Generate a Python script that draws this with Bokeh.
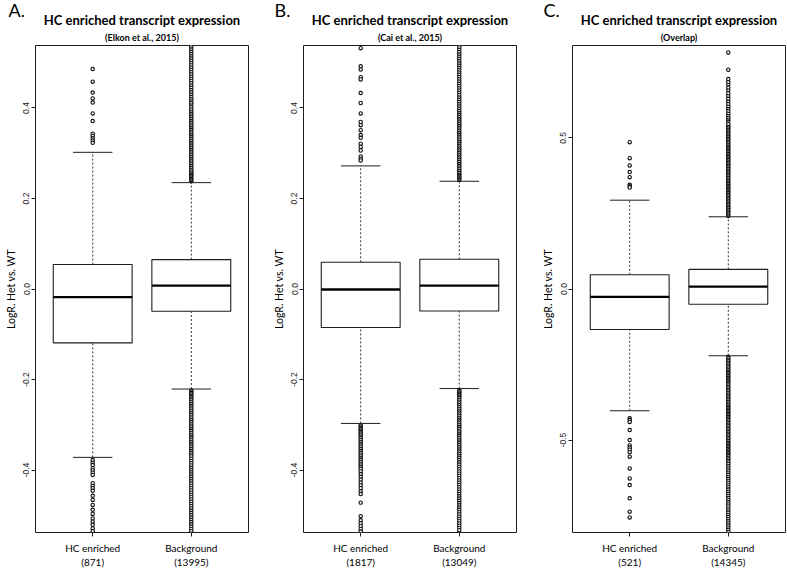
from bokeh.plotting import figure
from bokeh.models import Range1d, FixedTicker, Title, PrintfTickFormatter, ColumnDataSource
from bokeh.transform import dodge
from bokeh.layouts import row
from bokeh.embed import file_html
from bokeh.resources import INLINE

# ---------------- data ----------------
GROUPS = ["HC enriched", "Background"]
GROUP_POS = [1, 2]
PANEL_LETTERS = ["A.", "B.", "C."]
PANEL_TITLE = "HC enriched transcript expression"
PANEL_SUBTITLES = ["(Elkon et al., 2015)", "(Cai et al., 2015)", "(Overlap)"]
Y_LABEL = "LogR. Het vs. WT"

COUNTS_A = [871, 13995]
COUNTS_B = [1817, 13049]
COUNTS_C = [521, 14345]

# [lower whisker, Q1, median, Q3, upper whisker]
STATS_A = [[-0.372, -0.119, -0.018, 0.054, 0.302], [-0.221, -0.049, 0.0075, 0.065, 0.235]]
STATS_B = [[-0.297, -0.085, -0.001, 0.059, 0.272], [-0.220, -0.0486, 0.0075, 0.0656, 0.238]]
STATS_C = [[-0.403, -0.134, -0.026, 0.047, 0.294], [-0.221, -0.0507, 0.0077, 0.065, 0.239]]

Y_TICKS_AB = [-0.4, -0.2, 0.0, 0.2, 0.4]
Y_TICKS_C = [-0.5, 0.0, 0.5]
Y_LIMITS_AB = [-0.538, 0.538]
Y_LIMITS_C = [-0.806, 0.806]

A_HC_OUTLIERS = [0.486, 0.458, 0.434, 0.421, 0.412, 0.388, 0.371, 0.343, 0.338, 0.333, 0.328, 0.323,
                 -0.378, -0.384, -0.389, -0.396, -0.401, -0.406, -0.411, -0.429, -0.435, -0.44, -0.446,
                 -0.457, -0.466, -0.477, -0.488, -0.497, -0.507, -0.514, -0.521, -0.529, -0.535]
A_BG_OUTLIERS = [0.238, 0.241, 0.244, 0.247, 0.25, 0.253, 0.256, 0.259, 0.262, 0.266, 0.27, 0.274, 0.278,
                 0.282, 0.286, 0.29, 0.294, 0.298, 0.302, 0.306, 0.31, 0.314, 0.318, 0.322, 0.326, 0.33,
                 0.334, 0.338, 0.342, 0.346, 0.35, 0.354, 0.358, 0.362, 0.366, 0.37, 0.374, 0.378, 0.382,
                 0.386, 0.39, 0.394, 0.398, 0.403, 0.408, 0.412, 0.417, 0.421, 0.426, 0.431, 0.436, 0.441,
                 0.446, 0.451, 0.456, 0.461, 0.466, 0.471, 0.476, 0.481, 0.486, 0.491, 0.496, 0.501, 0.506,
                 0.511, 0.516, 0.521, 0.526, 0.531, 0.536, 0.541,
                 -0.224, -0.227, -0.23, -0.233, -0.236, -0.239, -0.242, -0.246, -0.25, -0.254, -0.258,
                 -0.262, -0.266, -0.27, -0.274, -0.278, -0.282, -0.286, -0.29, -0.294, -0.298, -0.302,
                 -0.306, -0.31, -0.314, -0.318, -0.322, -0.326, -0.33, -0.334, -0.338, -0.342, -0.346,
                 -0.35, -0.354, -0.358, -0.362, -0.366, -0.37, -0.375, -0.38, -0.385, -0.39, -0.395, -0.4,
                 -0.405, -0.41, -0.415, -0.42, -0.425, -0.43, -0.435, -0.44, -0.445, -0.45, -0.455, -0.46,
                 -0.465, -0.47, -0.475, -0.48, -0.485, -0.49, -0.495, -0.5, -0.505, -0.51, -0.515, -0.52,
                 -0.525, -0.53, -0.535, -0.541]

B_HC_OUTLIERS = [0.532, 0.492, 0.485, 0.468, 0.463, 0.433, 0.411, 0.388, 0.369, 0.362, 0.351, 0.34, 0.334,
                 0.321, 0.314, 0.306, 0.293, 0.288, 0.284,
                 -0.301, -0.304, -0.307, -0.31, -0.313, -0.316, -0.319, -0.322, -0.326, -0.33, -0.334,
                 -0.338, -0.342, -0.346, -0.35, -0.354, -0.358, -0.362, -0.366, -0.37, -0.374, -0.378,
                 -0.382, -0.386, -0.39, -0.394, -0.398, -0.403, -0.409, -0.415, -0.421, -0.428, -0.434,
                 -0.44, -0.447, -0.453, -0.472, -0.502, -0.511, -0.518, -0.524, -0.53, -0.536]
B_BG_OUTLIERS = [0.241, 0.244, 0.247, 0.25, 0.253, 0.256, 0.259, 0.263, 0.267, 0.271, 0.275, 0.279, 0.283,
                 0.287, 0.291, 0.295, 0.299, 0.303, 0.307, 0.311, 0.315, 0.319, 0.323, 0.327, 0.331, 0.335,
                 0.339, 0.343, 0.347, 0.351, 0.355, 0.359, 0.363, 0.367, 0.371, 0.375, 0.379, 0.383, 0.387,
                 0.391, 0.395, 0.4, 0.405, 0.41, 0.415, 0.42, 0.425, 0.43, 0.435, 0.44, 0.445, 0.45, 0.455,
                 0.46, 0.465, 0.47, 0.475, 0.48, 0.485, 0.49, 0.495, 0.5, 0.505, 0.51, 0.515, 0.52, 0.525,
                 0.53, 0.535, 0.541,
                 -0.223, -0.226, -0.229, -0.232, -0.235, -0.238, -0.241, -0.245, -0.249, -0.253, -0.257,
                 -0.261, -0.265, -0.269, -0.273, -0.277, -0.281, -0.285, -0.289, -0.293, -0.297, -0.301,
                 -0.305, -0.309, -0.313, -0.317, -0.321, -0.325, -0.329, -0.333, -0.337, -0.341, -0.345,
                 -0.349, -0.353, -0.357, -0.361, -0.365, -0.369, -0.373, -0.378, -0.383, -0.388, -0.393,
                 -0.398, -0.403, -0.408, -0.413, -0.418, -0.423, -0.428, -0.433, -0.438, -0.443, -0.448,
                 -0.453, -0.458, -0.463, -0.468, -0.473, -0.478, -0.483, -0.488, -0.493, -0.498, -0.503,
                 -0.508, -0.513, -0.518, -0.523, -0.528, -0.533, -0.541]

C_HC_OUTLIERS = [0.486, 0.433, 0.409, 0.387, 0.37, 0.345, 0.34, 0.336,
                 -0.428, -0.434, -0.44, -0.467, -0.5, -0.518, -0.525, -0.532, -0.54, -0.555, -0.594,
                 -0.627, -0.649, -0.693, -0.737, -0.756]
C_BG_OUTLIERS = [0.242, 0.247, 0.252, 0.257, 0.262, 0.267, 0.272, 0.277, 0.282, 0.287, 0.292, 0.297, 0.302,
                 0.307, 0.312, 0.317, 0.322, 0.327, 0.332, 0.337, 0.342, 0.347, 0.352, 0.357, 0.362, 0.367,
                 0.372, 0.377, 0.382, 0.387, 0.392, 0.397, 0.402, 0.407, 0.412, 0.417, 0.422, 0.427, 0.432,
                 0.437, 0.442, 0.447, 0.452, 0.457, 0.462, 0.467, 0.472, 0.477, 0.482, 0.487, 0.492, 0.497,
                 0.502, 0.507, 0.512, 0.517, 0.522, 0.527, 0.532, 0.537, 0.542, 0.547, 0.556, 0.562, 0.568,
                 0.575, 0.582, 0.59, 0.598, 0.605, 0.613, 0.622, 0.63, 0.64, 0.648, 0.659, 0.667, 0.678,
                 0.686, 0.695, 0.726, 0.783,
                 -0.224, -0.229, -0.234, -0.239, -0.244, -0.249, -0.254, -0.259, -0.264, -0.269, -0.274,
                 -0.279, -0.284, -0.289, -0.294, -0.299, -0.304, -0.309, -0.314, -0.319, -0.324, -0.329,
                 -0.334, -0.339, -0.344, -0.349, -0.354, -0.359, -0.364, -0.369, -0.374, -0.379, -0.384,
                 -0.389, -0.394, -0.399, -0.404, -0.409, -0.414, -0.419, -0.424, -0.429, -0.434, -0.439,
                 -0.444, -0.449, -0.454, -0.459, -0.464, -0.469, -0.474, -0.479, -0.484, -0.489, -0.494,
                 -0.499, -0.504, -0.509, -0.514, -0.519, -0.524, -0.529, -0.534, -0.539, -0.544, -0.549,
                 -0.554, -0.559, -0.564, -0.569, -0.574, -0.58, -0.587, -0.594, -0.601, -0.608, -0.615,
                 -0.622, -0.629, -0.636, -0.643, -0.65, -0.657, -0.664, -0.671, -0.678, -0.685, -0.692,
                 -0.699, -0.706, -0.713, -0.72, -0.727, -0.734, -0.741, -0.748, -0.755, -0.762, -0.769,
                 -0.776, -0.783, -0.79, -0.797, -0.804, -0.811]

# ---------------- layout / style ----------------
FRAME_W = 213
FRAME_H = 487
BORDER_TOP = 45
BORDER_BOTTOM = 36
LINE = "#1e1e1e"
UI_FONT = "Lato"


def make_panel(letter, subtitle, counts, stats, hc_out, bg_out, yticks, ylim,
               border_left, border_right, letter_dx):
    p = figure(frame_width=FRAME_W, frame_height=FRAME_H,
               x_range=Range1d(0.42, 2.58), y_range=Range1d(ylim[0], ylim[1]),
               output_backend="svg", toolbar_location=None, title=None,
               min_border_left=border_left, min_border_right=border_right,
               min_border_top=BORDER_TOP, min_border_bottom=BORDER_BOTTOM)
    p.grid.visible = False
    p.outline_line_color = LINE
    p.outline_line_width = 1
    p.background_fill_color = "white"
    p.border_fill_color = "white"

    src = ColumnDataSource(dict(
        x=GROUP_POS,
        lw=[s[0] for s in stats], q1=[s[1] for s in stats], med=[s[2] for s in stats],
        q3=[s[3] for s in stats], uw=[s[4] for s in stats]))

    # whiskers (dashed)
    p.segment(x0="x", y0="q3", x1="x", y1="uw", source=src, line_color="#333333",
              line_width=1, line_dash="2 2")
    p.segment(x0="x", y0="lw", x1="x", y1="q1", source=src, line_color="#333333",
              line_width=1, line_dash="2 2")

    # outliers
    ox = [GROUP_POS[0]] * len(hc_out) + [GROUP_POS[1]] * len(bg_out)
    oy = list(hc_out) + list(bg_out)
    osrc = ColumnDataSource(dict(x=ox, y=oy))
    p.scatter(x="x", y="y", source=osrc, marker="circle", size=3.4, fill_color="white",
              line_color="#0d0d0d", line_width=1.1)

    # staples
    p.segment(x0=dodge("x", -0.2), y0="uw", x1=dodge("x", 0.2), y1="uw", source=src,
              line_color=LINE, line_width=1)
    p.segment(x0=dodge("x", -0.2), y0="lw", x1=dodge("x", 0.2), y1="lw", source=src,
              line_color=LINE, line_width=1)

    # boxes and medians
    p.vbar(x="x", width=0.8, bottom="q1", top="q3", source=src, fill_color="white",
           line_color=LINE, line_width=1.1)
    p.segment(x0=dodge("x", -0.4), y0="med", x1=dodge("x", 0.4), y1="med", source=src,
              line_color="black", line_width=2.4)

    # x axis
    xa = p.xaxis[0]
    xa.ticker = FixedTicker(ticks=GROUP_POS)
    xa.major_label_overrides = {GROUP_POS[i]: f"{GROUPS[i]}\n({counts[i]})" for i in range(2)}
    xa.major_label_text_font = UI_FONT
    xa.major_label_text_font_size = "10px"
    xa.major_label_text_color = "black"
    xa.major_label_text_line_height = 1.22
    xa.major_label_standoff = 5
    xa.major_tick_out = 4
    xa.major_tick_in = 0
    xa.major_tick_line_color = LINE
    xa.minor_tick_line_color = None
    xa.axis_line_color = None

    # y axis
    ya = p.yaxis[0]
    ya.ticker = FixedTicker(ticks=yticks)
    ya.formatter = PrintfTickFormatter(format="%.1f")
    ya.major_label_orientation = "vertical"
    ya.major_label_text_font = "Liberation Sans"
    ya.major_label_text_font_size = "8.5px"
    ya.major_label_text_color = "#222222"
    ya.major_label_standoff = 2
    ya.major_tick_out = 4
    ya.major_tick_in = 0
    ya.major_tick_line_color = LINE
    ya.minor_tick_line_color = None
    ya.axis_line_color = None
    ya.axis_label = Y_LABEL
    ya.axis_label_text_font = UI_FONT
    ya.axis_label_text_font_size = "10.5px"
    ya.axis_label_text_font_style = "normal"
    ya.axis_label_text_color = "black"
    ya.axis_label_standoff = 4

    # titles (first added sits closest to the frame)
    p.add_layout(Title(text=subtitle, text_font=UI_FONT, text_font_size="9px",
                       text_font_style="bold", align="center", standoff=5,
                       text_color="black"), "above")
    p.add_layout(Title(text=PANEL_TITLE, text_font=UI_FONT, text_font_size="13px",
                       text_font_style="bold", align="center", standoff=-1.8,
                       text_color="black"), "above")
    p.add_layout(Title(text=letter, text_font=UI_FONT, text_font_size="18px",
                       text_font_style="normal", align="left", offset=letter_dx,
                       standoff=-18.4, text_color="black"), "above")
    return p


pA = make_panel(PANEL_LETTERS[0], PANEL_SUBTITLES[0], COUNTS_A, STATS_A, A_HC_OUTLIERS, A_BG_OUTLIERS,
                Y_TICKS_AB, Y_LIMITS_AB, 35, 10, -27)
pB = make_panel(PANEL_LETTERS[1], PANEL_SUBTITLES[1], COUNTS_B, STATS_B, B_HC_OUTLIERS, B_BG_OUTLIERS,
                Y_TICKS_AB, Y_LIMITS_AB, 45, 10, -29)
pC = make_panel(PANEL_LETTERS[2], PANEL_SUBTITLES[2], COUNTS_C, STATS_C, C_HC_OUTLIERS, C_BG_OUTLIERS,
                Y_TICKS_C, Y_LIMITS_C, 46, 2, -29)

layout = row(pA, pB, pC)
open("out.html", "w").write(file_html(layout, INLINE))
